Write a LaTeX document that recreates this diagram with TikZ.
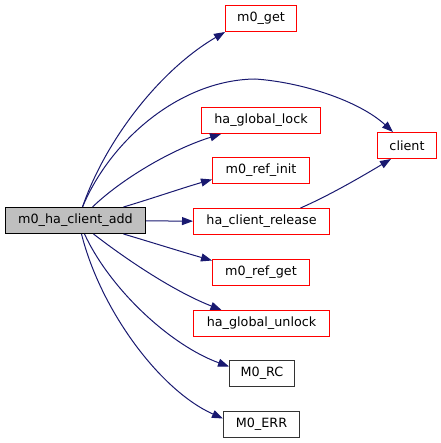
\documentclass[tikz,border=0pt]{standalone}
\usepackage{fontspec}
\setmainfont{DejaVu Sans}
\usetikzlibrary{arrows.meta}
\definecolor{edgeblue}{HTML}{191970}
\definecolor{mainfill}{HTML}{BFBFBF}
\definecolor{funcred}{HTML}{FF0000}
\begin{document}
\begin{tikzpicture}[
    x=1bp, y=-1bp,
    every node/.style={draw, font=\fontsize{12.8}{15}\selectfont, inner sep=0pt, minimum height=26bp, line width=1bp},
    func/.style={draw=funcred},
    plain/.style={draw=black!80},
    arrow/.style={-{Triangle[length=11bp, width=8bp]}, edgeblue, line width=1bp}
]
\useasboundingbox (0,0) rectangle (441,443);

\node[fill=mainfill, draw=black, minimum width=140bp] (add) at (75.5,220.5) {m0\_ha\_client\_add};
\node[func, minimum width=71bp] (get) at (261,18.5) {m0\_get};
\node[func, minimum width=119bp] (lock) at (261,120.5) {ha\_global\_lock};
\node[func, minimum width=59bp] (client) at (407,145.5) {client};
\node[func, minimum width=97bp] (refinit) at (261,170.5) {m0\_ref\_init};
\node[func, minimum width=136bp] (release) at (261.5,221.5) {ha\_client\_release};
\node[func, minimum width=97bp] (refget) at (261,272.5) {m0\_ref\_get};
\node[func, minimum width=136bp] (unlock) at (261.5,323.5) {ha\_global\_unlock};
\node[plain, minimum width=65bp] (rc) at (262,373.5) {M0\_RC};
\node[plain, minimum width=76bp] (err) at (261.5,424.5) {M0\_ERR};

\draw[arrow] ([xshift=7bp]add.north) .. controls +(23,-67) and +(-65,38) .. (get.south west);
\draw[arrow] ([xshift=7bp]add.north) .. controls +(28,-67) and +(-75,1) .. (255,79)
    .. controls +(45,3) and +(-35,-32) .. ([xshift=-14bp]client.north);
\draw[arrow] ([xshift=17bp]add.north) .. controls +(28,-27) and +(-51,16) .. ([xshift=-40bp]lock.south);
\draw[arrow] ([xshift=48bp]add.north) .. controls +(27,-8) and +(-28,8) .. ([yshift=-9bp]refinit.west);
\draw[arrow] (add) -- (release);
\draw[arrow] ([xshift=48bp]add.south) .. controls +(27,8) and +(-28,-8) .. ([yshift=12bp]refget.west);
\draw[arrow] ([xshift=18bp]add.south) .. controls +(27,21) and +(-51,-20) .. ([xshift=-40bp]unlock.north);
\draw[arrow] ([xshift=9bp]add.south) .. controls +(26,56) and +(-58,-21) .. ([yshift=7bp]rc.west);
\draw[arrow] ([xshift=6bp]add.south) .. controls +(19,76) and +(-63,-28) .. ([yshift=6bp]err.west);
\draw[arrow] ([xshift=39bp]release.north) .. controls +(30,-13) and +(-25,15) .. ([xshift=-16bp]client.south);

\end{tikzpicture}
\end{document}
